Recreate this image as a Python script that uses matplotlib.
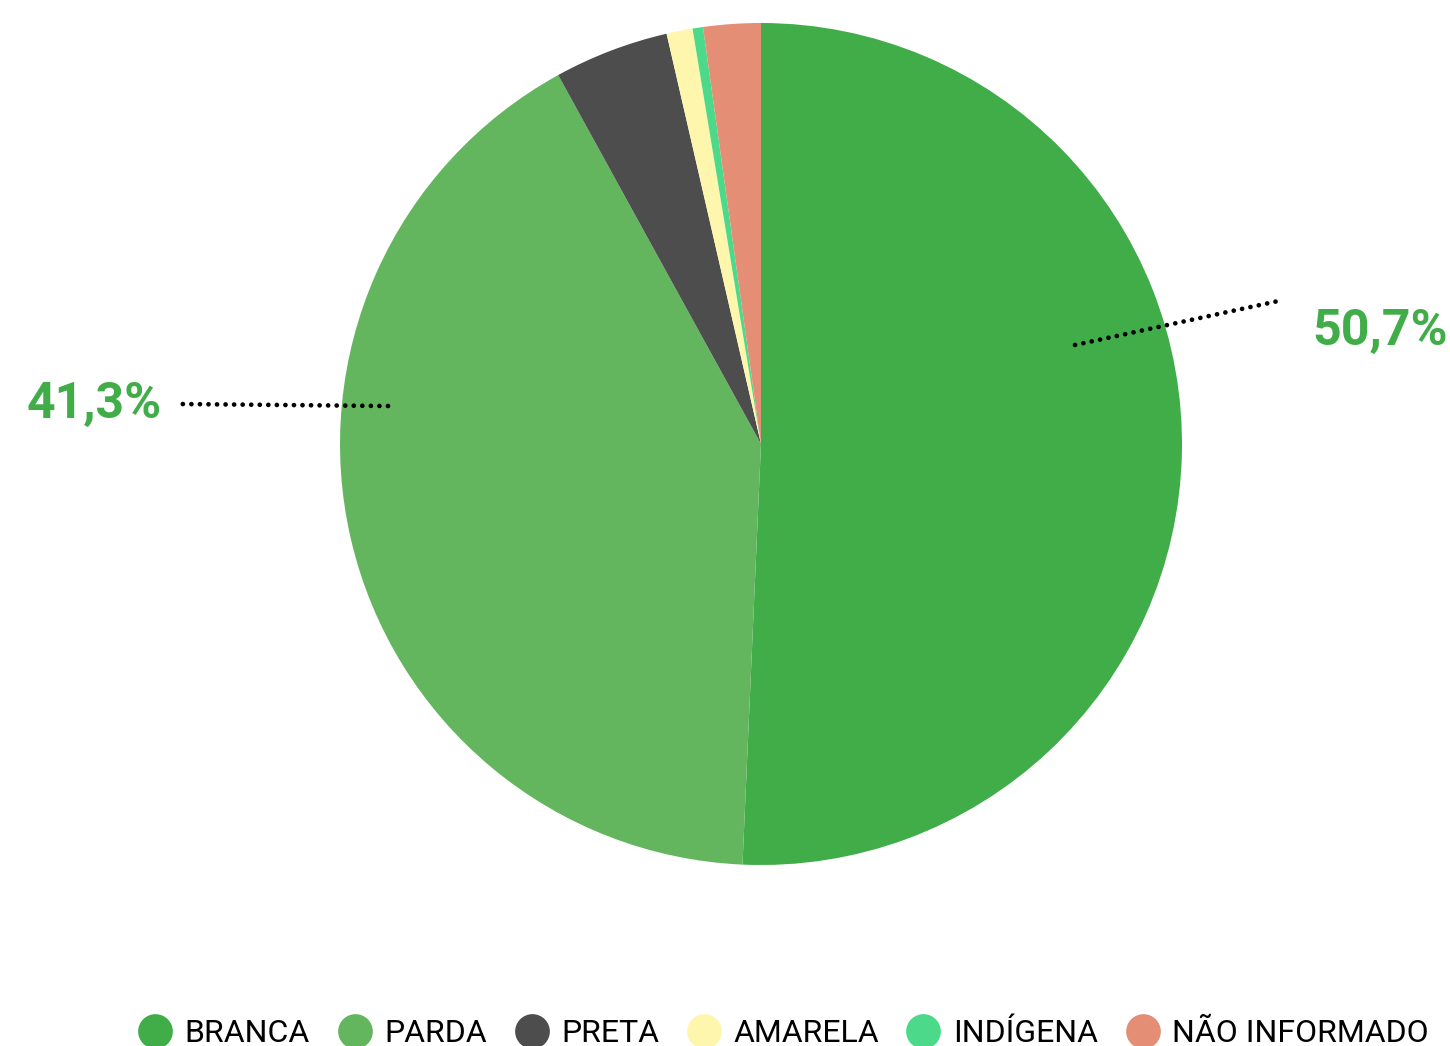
import matplotlib.pyplot as plt
from matplotlib.lines import Line2D

# share of each group (%), clockwise from 12 o'clock
categories = ["BRANCA", "PARDA", "PRETA", "AMARELA", "INDÍGENA", "NÃO INFORMADO"]
shares = [50.7, 41.3, 4.4, 1.0, 0.4, 2.2]
colors = ["#41ad49", "#64b65e", "#4d4d4d", "#fff6ae", "#4cd98a", "#e38e75"]

# callouts for the two big slices: (index, text position, leader start, leader end)
callouts = [
    (0, (1312, 345), (1075, 345), (1283, 300)),
    (1, (27, 418), (388, 406), (177, 404)),
]

W, H = 1450, 1046
plt.rcParams["font.family"] = ["Roboto", "DejaVu Sans"]

fig = plt.figure(figsize=(W / 100, H / 100), dpi=100)
ax = fig.add_axes([0, 0, 1, 1])

ax.pie(shares, colors=colors, startangle=90, counterclock=False,
       center=(761, H - 444), radius=421,
       wedgeprops=dict(linewidth=0, antialiased=True))

# pie() resets the limits, so fix the pixel frame afterwards
ax.set_xlim(0, W)
ax.set_ylim(0, H)
ax.set_aspect("equal")
ax.axis("off")

for idx, (tx, ty), (x0, y0), (x1, y1) in callouts:
    ax.plot([x0, x1], [H - y0, H - y1], color="black", linewidth=3.4,
            linestyle=(0, (0.01, 1.8)), dash_capstyle="round")
    label = f"{shares[idx]:.1f}%".replace(".", ",")
    ax.text(tx, H - ty, label, ha="left", va="baseline", fontsize=36,
            fontweight="bold", color="#41ad49")

handles = [Line2D([], [], linestyle="none", marker="o", markersize=25,
                  markerfacecolor=c, markeredgewidth=0) for c in colors]
fig.legend(handles, categories, loc="lower center", ncol=6,
           bbox_to_anchor=(784 / W, -2 / H), frameon=False, fontsize=23,
           handlelength=1.0, handletextpad=0.42, columnspacing=0.9,
           borderaxespad=0, borderpad=0)

fig.savefig("out.png", dpi=100)
